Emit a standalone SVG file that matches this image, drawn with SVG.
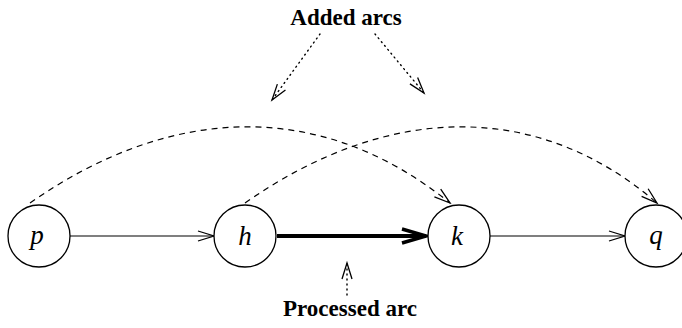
<svg xmlns="http://www.w3.org/2000/svg" width="682" height="328" viewBox="0 0 682 328">
  <style>
    .node circle { fill: #fff; stroke: #000; stroke-width: 1.3; }
    .node text { font-family: "Liberation Serif", serif; font-style: italic; font-size: 27px; text-anchor: middle; fill: #000; }
    .label { font-family: "Liberation Serif", serif; font-weight: bold; font-size: 23px; text-anchor: middle; fill: #000; }
    .edge { fill: none; stroke: #000; stroke-width: 1.2; }
    .bold { fill: none; stroke: #000; stroke-width: 4; }
    .dash { fill: none; stroke: #000; stroke-width: 1.2; stroke-dasharray: 6 5; }
    .dot { fill: none; stroke: #000; stroke-width: 1.4; stroke-dasharray: 1 4; stroke-linecap: round; }
  </style>
  <defs>
    <marker id="vhead" markerUnits="userSpaceOnUse" markerWidth="20" markerHeight="14" refX="16" refY="7" orient="auto" overflow="visible">
      <path d="M0,2 L16,7 L0,12" fill="none" stroke="#000" stroke-width="1.3"/>
    </marker>
    <marker id="vbold" markerUnits="userSpaceOnUse" markerWidth="30" markerHeight="20" refX="24" refY="10" orient="auto" overflow="visible">
      <path d="M0,3 L24,10 L0,17" fill="none" stroke="#000" stroke-width="3.5" stroke-linejoin="miter"/>
    </marker>
  </defs>

  <!-- connectors -->
  <g id="connectors">
    <line class="edge" x1="70" y1="236" x2="214" y2="236" marker-end="url(#vhead)"/>
    <line class="bold" x1="277" y1="236" x2="426" y2="236" marker-end="url(#vbold)"/>
    <line class="edge" x1="490" y1="236" x2="625" y2="236" marker-end="url(#vhead)"/>
    <path class="dash" d="M30,203 C170,105 320,98 450,203" marker-end="url(#vhead)"/>
    <path class="dash" d="M245,203 C385,105 535,98 657,203" marker-end="url(#vhead)"/>
    <!-- pointers from the captions -->
    <line class="dot" x1="320" y1="34" x2="272" y2="100" marker-end="url(#vhead)"/>
    <line class="dot" x1="375" y1="34" x2="424" y2="93" marker-end="url(#vhead)"/>
    <line class="dot" x1="347" y1="295" x2="347" y2="263" marker-end="url(#vhead)"/>
  </g>

  <!-- nodes -->
  <g id="node-p" class="node">
    <circle cx="39" cy="236" r="31"/>
    <text x="37" y="244">p</text>
  </g>
  <g id="node-h" class="node">
    <circle cx="245" cy="236" r="31"/>
    <text x="245" y="245">h</text>
  </g>
  <g id="node-k" class="node">
    <circle cx="459" cy="236" r="31"/>
    <text x="457" y="245">k</text>
  </g>
  <g id="node-q" class="node">
    <circle cx="656" cy="236" r="31"/>
    <text x="656" y="244">q</text>
  </g>

  <!-- captions -->
  <text class="label" x="346" y="25">Added arcs</text>
  <text class="label" x="350" y="316">Processed arc</text>
</svg>
